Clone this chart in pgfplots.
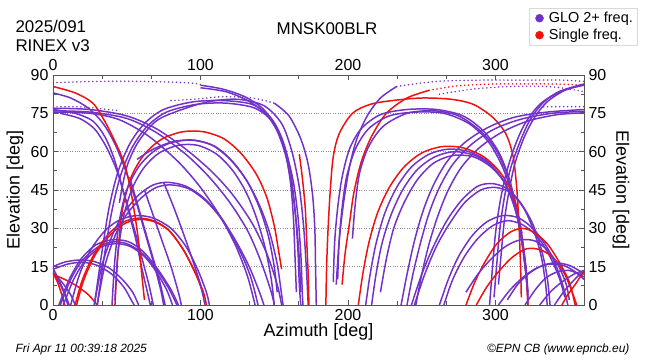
\documentclass[border=0pt]{standalone}
\usepackage{pgfplots}
\pgfplotsset{compat=1.18}
\usepackage{fontspec}
\setmainfont{Liberation Sans}
\definecolor{glo}{HTML}{7232C8}
\definecolor{sgl}{HTML}{F01010}
\definecolor{axgray}{HTML}{555555}
\pgfplotsset{
  P/.style={glo, line width=1.5pt, smooth, forget plot},
  R/.style={sgl, line width=1.5pt, smooth, forget plot},
  PD/.style={glo, line width=1.7pt, smooth, dash pattern=on 0pt off 4pt, line cap=round, forget plot},
  RD/.style={sgl, line width=1.7pt, smooth, dash pattern=on 0pt off 4pt, line cap=round, forget plot},
}
\begin{document}
\begin{tikzpicture}
\useasboundingbox (-53bp,-55bp) rectangle (597bp,305bp);
\begin{axis}[
  at={(0,0)}, anchor=south west,
  scale only axis, width=531bp, height=230bp,
  xmin=0, xmax=360, ymin=0, ymax=90,
  xtick={0,100,200,300}, minor x tick num=2,
  ytick={0,15,30,45,60,75,90}, minor y tick num=1,
  ymajorgrids, grid style={black!45, dotted, line width=0.6pt},
  major tick length=5bp, minor tick length=3.5bp,
  axis line style={axgray, line width=0.9pt},
  tick style={axgray, line width=0.7pt},
  tick label style={font=\fontsize{16}{16}\selectfont},
  /pgf/number format/assume math mode=true,
  xticklabel style={yshift=-1bp},
  yticklabel style={xshift=-1bp},
  xlabel={Azimuth [deg]}, ylabel={Elevation [deg]},
  label style={font=\fontsize{18}{18}\selectfont},
  xlabel style={at={(axis description cs:0.5,-0.139)}, anchor=base},
  ylabel style={at={(axis description cs:-0.0716,0.5)}, anchor=center, rotate=0},
  legend style={at={(axis description cs:1.0998,1.291)}, anchor=north east,
    draw=black!15, font=\fontsize{14.5}{14.5}\selectfont, inner sep=2pt, row sep=1pt,
    legend cell align=left},
  legend image code/.code={\path[draw=none, fill=none] (-0.12cm,0) -- (0.42cm,0); \fill[#1] (0.16cm,0cm) circle (4bp);},
]
\addlegendimage{glo}\addlegendentry{GLO 2+ freq.}
\addlegendimage{sgl}\addlegendentry{Single freq.}

% ---- NE low arcs
\addplot[P] coordinates {(0,15) (8,16.8) (18,17.6) (28,17) (38,14.5) (47,10) (54,5) (58,0)};
\addplot[P] coordinates {(0,14) (10,16) (20,16.7) (30,15.5) (40,12) (48,7) (53,2) (55,0)};
\addplot[P] coordinates {(0,14.5) (3,11) (7,6) (11,0)};
\addplot[P] coordinates {(0,13) (4,9) (8,4) (10,0)};
\addplot[P] coordinates {(0,12.5) (6,9) (12,4) (15,0)};
\addplot[R] coordinates {(0,12) (8,10) (16,7.5) (24,4) (30,0)};
\addplot[R] coordinates {(0,12.5) (3,9) (6,4) (8,0)};
\addplot[P] coordinates {(5,0) (12,10) (20,17.5) (30,22.5) (40,24.7) (50,24) (60,20.5) (70,14) (78,7) (84,0)};
\addplot[P] coordinates {(4,0) (11,10) (19,18) (29,23.5) (40,25.5) (51,24.8) (61,21) (71,14) (80,6) (85,0)};
\addplot[P] coordinates {(7,0) (14,10) (22,17.5) (32,22.5) (42,24) (52,23) (62,19) (70,13) (77,6) (81,0)};
\addplot[P] coordinates {(12,0) (18,12) (26,22) (36,29.5) (46,33.5) (57,35) (68,34) (80,30) (90,23) (98,14) (104,5) (106,0)};
\addplot[R] coordinates {(15,0) (20,10) (28,20) (38,28) (48,32.5) (58,34) (68,33) (78,29.5) (88,22) (96,13) (102,5) (104,0)};
\addplot[R] coordinates {(16,0) (21,10) (29,20) (39,27.5) (49,32) (59,33.5) (69,32.5) (79,29) (89,21) (97,12) (102,4)};
\addplot[P] coordinates {(28,0) (33,15) (40,27) (48,36) (58,43) (68,47) (78,48) (90,46.5) (102,42) (113,35) (124,25) (133,15) (140,5) (143,0)};
\addplot[P] coordinates {(30,0) (35,15) (42,27) (50,35.5) (60,42) (70,46) (80,47) (92,45.5) (104,40.5) (115,33) (126,22) (134,11) (139,0)};

% ---- NE rising, overhead, to S
\addplot[P] coordinates {(28,0) (33,20) (38,38) (44,52) (52,63) (62,71) (75,76.5) (95,79.5) (115,80) (135,78.5) (148,73) (156,64) (161,52) (164,38) (166,22) (167,8) (168,0)};
\addplot[P] coordinates {(30,0) (35,20) (40,37) (46,51) (54,62) (64,70) (77,75.5) (97,78.5) (117,79) (137,77) (150,71) (157,61) (161,48) (163,34) (164,20) (165,5)};
\addplot[P] coordinates {(45,40) (50,54) (58,64) (70,72) (85,76) (105,79.5) (125,80.5) (143,78) (155,71) (162,60) (167,46) (170,30) (172,12) (173,0)};
\addplot[PD] coordinates {(0,87) (30,87.5) (60,87.5) (90,87) (100,86.3)};
\addplot[P] coordinates {(100,86) (115,84.5) (130,81.5) (142,77) (151,70) (158,60) (163,48) (166,35) (168,20) (169,5) (169.5,0)};
\addplot[P] coordinates {(100,85) (117,83.5) (132,80) (144,75) (152,68) (158,58) (162,46) (165,32) (167,18) (168,5)};
\addplot[PD] coordinates {(80,80) (95,80.5) (115,81.5) (135,81) (150,79)};
\addplot[P] coordinates {(150,79) (160,74) (168,65) (173,55) (176,43) (177.5,30) (178,15) (178.5,0)};

% ---- from north (el 76) to SE
\addplot[P] coordinates {(0,77) (25,76.5) (50,74) (70,69) (90,61) (108,52) (122,43) (135,32) (145,20) (152,8) (155,0)};
\addplot[P] coordinates {(0,76) (25,75.5) (50,73) (70,67.5) (90,59) (106,50) (120,40) (132,29) (141,17) (148,5) (150,0)};
\addplot[P] coordinates {(0,75.5) (25,75) (45,72.5) (65,66) (85,56) (100,46) (113,35) (124,23) (132,11) (137,0)};
\addplot[P] coordinates {(0,76.5) (15,75) (27,72) (35,66) (41,58) (46,48) (51,37) (56,26) (60,15) (64,5) (66,0)};
\addplot[P] coordinates {(5,75) (18,73) (28,69) (36,62) (43,53) (49,42) (55,30) (60,19) (65,8) (68,0)};
\addplot[P] coordinates {(0,83) (12,81) (24,77) (34,71) (42,63) (49,53) (56,41) (62,29) (68,17) (73,6) (75,0)};
\addplot[P] coordinates {(52,50) (57,40) (62,30) (67,20) (72,10) (76,0)};
\addplot[P] coordinates {(62,45) (68,35) (74,25) (80,15) (85,5) (87,0)};
\addplot[P] coordinates {(75,48) (82,38) (89,27) (95,17) (100,8) (103,0)};
\addplot[PD] coordinates {(0,77.5) (20,77.5) (45,76)};
\addplot[R] coordinates {(0,85.5) (15,83) (27,79) (35,72) (42,64) (48,56) (52,47) (55,37) (58,25) (60,13) (62,2)};

% ---- red arc peak 68 and purple peak 64
\addplot[R] coordinates {(42,0) (44,20) (47,37) (53,50) (62,59) (74,65) (88,67.8) (102,67.8) (116,65) (128,59) (138,51) (145,42) (150,31) (153,21) (155,14)};
\addplot[P] coordinates {(40,0) (42,18) (45,33) (50,45) (58,54) (68,60) (80,63.5) (94,64.5) (108,62.5) (120,57) (131,49) (140,39) (147,28) (152,16) (155,4) (156,0)};
\addplot[P] coordinates {(42,2) (44,20) (48,35) (54,46) (62,54) (72,59.5) (85,62.5) (98,62.5) (111,59) (122,52.5) (131,44) (138,34) (144,22) (148,10) (150,0)};
\addplot[P] coordinates {(57,57) (68,61) (82,64) (96,64.5) (110,62) (122,56) (132,48) (140,38) (146,27) (150,15) (152,5)};

% ---- centre
\addplot[R] coordinates {(167,59) (169,50) (171,38) (172,25) (173,12) (173.5,0)};
\addplot[R] coordinates {(185,0) (185.5,15) (186.5,30) (188,45) (190,58) (194,67) (203,75) (215,78.5) (230,80) (250,81) (270,80.5) (285,78.5) (298,73.5) (307,67) (312,58) (314.5,45) (316,30) (317,15) (317.5,3)};
\addplot[R] coordinates {(196,8) (198,20) (201,32) (204,44) (209,56) (216,66) (226,75) (240,81) (255,84)};
\addplot[RD] coordinates {(255,84) (275,85.8) (300,86.5) (320,86.5) (340,86.5) (360,86)};
\addplot[P] coordinates {(192,8) (194,25) (197,40) (201,54) (206,65) (213,74) (222,81) (233,85.5)};
\addplot[PD] coordinates {(233,85.5) (260,87.5) (290,88) (320,88) (345,88) (360,87.5)};
\addplot[PD] coordinates {(262,82.5) (285,84.5) (310,85.5) (335,85.5) (350,84.5) (360,83.5)};
\addplot[P] coordinates {(190,9) (191,25) (193,38) (196,50) (201,61) (209,69) (222,74.5) (240,76.5) (260,76.5) (278,74) (292,68) (302,60) (309,50) (314,38) (318,24) (321,10) (322,0)};
\addplot[P] coordinates {(193,10) (194,25) (196,38) (199,50) (205,61) (214,69) (228,74) (246,75.5) (265,75) (282,71) (295,64) (304,55) (311,44) (316,31) (320,17) (322,5)};
\addplot[P] coordinates {(203,26) (205,40) (208,52) (214,62) (224,70) (240,75) (258,76) (275,74) (290,68) (300,61) (308,51) (314,39) (318,25) (321,10)};

% ---- SW rising to north (el 76 at 360)
\addplot[P] coordinates {(236,0) (240,12) (245,25) (251,37) (258,47) (267,56) (279,63.5) (295,69.5) (313,73.5) (335,75.5) (360,76.5)};
\addplot[P] coordinates {(240,0) (244,12) (249,24) (255,36) (262,46) (271,55) (283,62.5) (298,68.5) (316,72.5) (338,75) (360,75.8)};
\addplot[P] coordinates {(246,0) (250,12) (255,24) (261,35) (268,45) (277,54) (289,61.5) (304,67.5) (322,72) (342,74.5) (360,75.2)};
\addplot[PD] coordinates {(330,77.5) (345,77.6) (360,77.6)};

% ---- red peak 62 and purple peak 61
\addplot[R] coordinates {(207,0) (210,12) (214,24) (220,36) (228,46) (238,54) (250,59.5) (264,62) (278,61.5) (292,58) (303,52) (311,44) (316,34) (319,22) (321,10) (322,0)};
\addplot[P] coordinates {(212,0) (215,12) (219,24) (225,36) (233,46) (243,54) (255,59) (268,61) (282,60) (295,56) (305,49) (312,40) (317,29) (320,16) (322,4)};
\addplot[P] coordinates {(216,0) (219,12) (223,24) (229,35) (237,45) (247,53) (259,58) (272,60) (286,58.5) (298,54) (307,47) (313,38) (318,26) (321,13) (322,2)};
\addplot[P] coordinates {(222,5) (226,18) (231,30) (238,40) (247,49) (258,55.5) (271,58.5) (285,58) (297,54) (306,48) (313,39) (318,28)};

% ---- steep to NW zenith
\addplot[P] coordinates {(296,0) (298,15) (300,28) (303,40) (307,51) (313,62) (320,71) (330,78.5) (342,83) (352,85) (360,86)};
\addplot[P] coordinates {(299,3) (301,17) (303,30) (306,42) (310,53) (316,63) (323,72) (332,79) (343,83.5) (360,86.5)};
\addplot[P] coordinates {(302,8) (304,21) (306,33) (309,44) (313,55) (319,65) (326,73) (335,79.5) (347,84) (360,86.2)};

% ---- NW low arcs
\addplot[P] coordinates {(243,0) (250,12) (258,23) (267,33) (277,41) (288,46.5) (298,47.5) (308,45.5) (317,40) (325,32) (331,22) (335,11) (337,0)};
\addplot[P] coordinates {(245,0) (252,12) (260,23) (269,32) (279,40) (290,45) (300,46) (310,44) (319,38) (326,29) (331,19) (334,8) (335,0)};
\addplot[P] coordinates {(262,0) (268,10) (275,19) (284,27) (294,32.5) (305,35) (316,34) (326,29.5) (335,22.5) (342,14) (347,5) (349,0)};
\addplot[P] coordinates {(265,0) (271,10) (279,19) (288,26) (298,31) (308,33) (318,31.5) (328,27) (336,20) (343,11) (347,3)};
\addplot[R] coordinates {(280,0) (286,9) (293,17) (301,24) (310,28.5) (318,30) (326,28.5) (335,24) (343,17) (350,9) (354,0)};
\addplot[R] coordinates {(287,0) (294,7) (302,13) (311,18.5) (321,22) (331,21.5) (340,18) (347,12) (352,5) (355,0)};
\addplot[P] coordinates {(280,5) (288,12) (297,18) (307,23) (317,25.5) (327,25) (336,21) (343,15) (348,8) (350,2)};
\addplot[P] coordinates {(308,2) (315,8) (323,12.5) (332,15.5) (341,16.5) (350,15.5) (358,13) (360,12)};
\addplot[P] coordinates {(302,0) (310,6) (319,11) (328,14.5) (337,16) (346,15.5) (354,13) (360,10)};
\addplot[P] coordinates {(330,0) (337,5) (345,9) (353,12) (360,13.5)};
\addplot[P] coordinates {(340,0) (346,5) (352,9) (358,12.5) (360,13)};
\addplot[R] coordinates {(345,0) (349,4) (354,8) (358,11.5) (360,13)};
\addplot[P] coordinates {(320,0) (327,6) (334,10.5) (342,13) (350,13.5) (357,12) (360,11)};
\end{axis}
% second axis for the mirrored tick labels and right label
\begin{axis}[
  at={(0,0)}, anchor=south west,
  scale only axis, width=531bp, height=230bp,
  xmin=0, xmax=360, ymin=0, ymax=90,
  xtick={0,100,200,300}, ytick={0,15,30,45,60,75,90},
  axis line style={draw=none}, tick style={draw=none},
  xticklabel pos=upper, yticklabel pos=right,
  tick label style={font=\fontsize{16}{16}\selectfont},
  /pgf/number format/assume math mode=true,
  xticklabel style={yshift=1bp},
  yticklabel style={xshift=1bp},
  ylabel={Elevation [deg]},
  label style={font=\fontsize{18}{18}\selectfont},
  ylabel style={at={(axis description cs:1.0697,0.5)}, anchor=center, rotate=180},
]
\end{axis}
\node[anchor=base west, font=\fontsize{17}{17}\selectfont] at (-41bp,272bp) {2025/091};
\node[anchor=base west, font=\fontsize{17}{17}\selectfont] at (-41bp,253bp) {RINEX v3};
\node[anchor=base, font=\fontsize{17}{17}\selectfont] at (274bp,270bp) {MNSK00BLR};
\node[anchor=base west, font=\itshape\fontsize{12}{12}\selectfont] at (-41bp,-47bp) {Fri Apr 11 00:39:18 2025};
\node[anchor=base east, font=\itshape\fontsize{12}{12}\selectfont] at (580bp,-47bp) {©EPN CB (www.epncb.eu)};
\end{tikzpicture}
\end{document}
